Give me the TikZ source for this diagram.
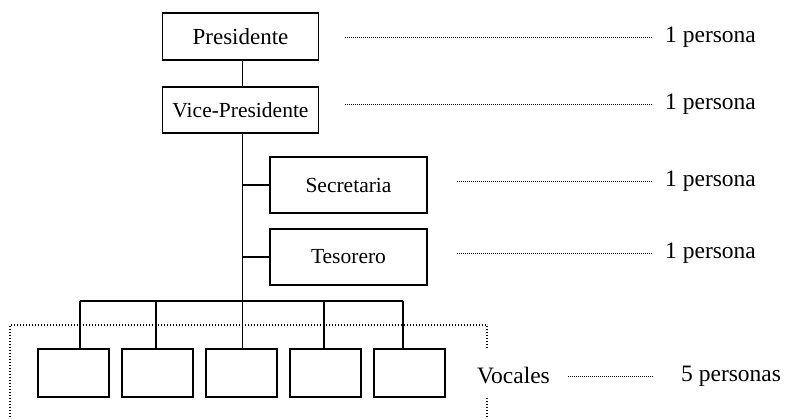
\documentclass[tikz,border=0pt]{standalone}
\usepackage{fontspec}
\setmainfont{Liberation Serif}
\begin{document}
\begin{tikzpicture}[x=1pt,y=-1pt,
  post/.style={draw,line width=1.7pt,inner sep=0pt,minimum width=156pt,minimum height=47pt,font=\fontsize{21.5}{24}\selectfont},
  vocal/.style={draw,line width=1.7pt,inner sep=0pt,minimum width=71pt,minimum height=48pt},
  link/.style={line width=1.7pt},
  leader/.style={line width=0.8pt,dash pattern=on 0.8pt off 1.2pt},
  frame/.style={line width=1.3pt,dash pattern=on 1.3pt off 1.7pt},
  count/.style={anchor=west,inner sep=0pt,font=\fontsize{23.5}{26}\selectfont}]
\useasboundingbox (0,0) rectangle (785,418);

% chain of posts
\node[post,font=\fontsize{23}{26}\selectfont] (pres) at (240.5,36.5) {Presidente};
\node[post,minimum height=46pt] (vice) at (240.5,110) {Vice-Presidente};
\node[post,minimum width=157pt,minimum height=56pt] (secr) at (348.5,185) {Secretaria};
\node[post,minimum width=157pt,minimum height=56pt] (teso) at (348.5,257) {Tesorero};

% vocal boxes
\foreach \i/\x in {1/73.5,2/157.5,3/241.5,4/325.5,5/409.5}
  \node[vocal] (v\i) at (\x,373) {};

% spine and bar junctions
\coordinate (spine) at (242.5,301);
\coordinate (j1) at (80,301);
\coordinate (j2) at (156,301);
\coordinate (j3) at (242.5,301);
\coordinate (j4) at (324,301);
\coordinate (j5) at (403,301);

\draw[link] (pres.south -| spine) -- (vice.north -| spine);
\draw[link] (vice.south -| spine) -- (spine);
\draw[link] (secr.west -| spine) -- (secr.west);
\draw[link] (teso.west -| spine) -- (teso.west);
\draw[link] (j1) -- (j5);
\foreach \i in {1,...,5}
  \draw[link] (j\i) -- (j\i |- v\i.north);

% dotted frame around the vocal boxes
\draw[frame] (487,348) -- (487,325) -- (10,325) -- (10,418);
\draw[frame] (487,398) -- (487,418);

% counts
\node[count] (c1) at (665,37) {1 persona};
\node[count] (c2) at (665,104) {1 persona};
\node[count] (c3) at (665,181) {1 persona};
\node[count] (c4) at (665,253) {1 persona};
\node[count] (voc) at (477,376) {Vocales};
\node[count] (c5) at (681,376) {5 personas};

\coordinate (l1) at (345,37);
\coordinate (l2) at (345,104);
\coordinate (l3) at (457,181);
\coordinate (l4) at (457,253);
\draw[leader] (l1) -- (c1.west -| 653,0);
\draw[leader] (l2) -- (c2.west -| 653,0);
\draw[leader] (l3) -- (c3.west -| 653,0);
\draw[leader] (l4) -- (c4.west -| 653,0);
\draw[leader] ([xshift=18pt]voc.east) -- ([xshift=-28pt]c5.west);
\end{tikzpicture}
\end{document}
